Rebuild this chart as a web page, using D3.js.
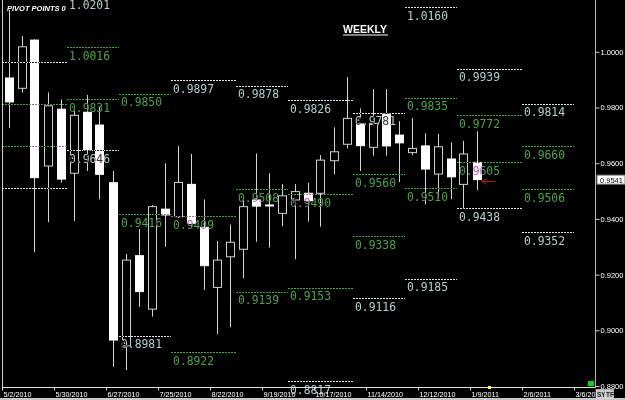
<!DOCTYPE html>
<html>
<head>
<meta charset="utf-8">
<script src="https://cdn.jsdelivr.net/npm/d3@7"></script>
<style>
  html, body { margin: 0; padding: 0; background: #000; }
  svg { display: block; }
</style>
</head>
<body>
<div id="chart"></div>
<script>
const width = 625;
const height = 400;

// weekly candles (week start dates)
const weeks = ["2010-05-02","2010-05-09","2010-05-16","2010-05-23","2010-05-30",
  "2010-06-06","2010-06-13","2010-06-20","2010-06-27",
  "2010-07-04","2010-07-11","2010-07-18","2010-07-25",
  "2010-08-01","2010-08-08","2010-08-15","2010-08-22","2010-08-29",
  "2010-09-05","2010-09-12","2010-09-19","2010-09-26",
  "2010-10-03","2010-10-10","2010-10-17","2010-10-24","2010-10-31",
  "2010-11-07","2010-11-14","2010-11-21","2010-11-28",
  "2010-12-05","2010-12-12","2010-12-19","2010-12-26",
  "2011-01-02","2011-01-09"];
const open  = [0.9906,0.9869,1.0042,0.9590,0.9794,0.9564,0.9783,0.9737,0.9530,0.8944,0.9268,0.9076,0.9435,0.9408,0.9524,0.9370,0.9154,0.9264,0.9291,0.9468,0.9450,0.9420,0.9468,0.9492,0.9492,0.9609,0.9668,0.9741,0.9657,0.9776,0.9701,0.9638,0.9662,0.9561,0.9615,0.9524,0.9603];
const high  = [1.0150,1.0057,1.0045,0.9854,0.9829,0.9790,0.9845,0.9803,0.9572,0.9274,0.9364,0.9450,0.9600,0.9662,0.9633,0.9470,0.9321,0.9380,0.9468,0.9635,0.9564,0.9525,0.9525,0.9530,0.9629,0.9729,0.9909,0.9797,0.9866,0.9866,0.9751,0.9762,0.9707,0.9705,0.9675,0.9680,0.9715];
const low   = [0.9726,0.9853,0.9280,0.9388,0.9530,0.9392,0.9572,0.9470,0.8869,0.8857,0.9084,0.9049,0.9300,0.9403,0.9366,0.9145,0.8987,0.9011,0.9187,0.9318,0.9297,0.9374,0.9255,0.9390,0.9372,0.9560,0.9653,0.9572,0.9627,0.9627,0.9532,0.9629,0.9452,0.9474,0.9471,0.9438,0.9504];
const close = [0.9820,1.0018,0.9548,0.9806,0.9543,0.9772,0.9647,0.9560,0.8965,0.9252,0.9139,0.9444,0.9414,0.9531,0.9384,0.9232,0.9252,0.9316,0.9444,0.9446,0.9447,0.9483,0.9498,0.9465,0.9611,0.9641,0.9761,0.9663,0.9743,0.9662,0.9673,0.9653,0.9579,0.9659,0.9551,0.9633,0.9541];
const lastPrice = 0.9541;

// monthly pivot levels (segment start dates, last one is the end)
const pivotStarts = ["2010-05-02","2010-06-06","2010-07-04","2010-08-01","2010-09-05","2010-10-03",
  "2010-11-07","2010-12-05","2011-01-02","2011-02-06","2011-03-06"];
const pivotR2 = [0.9964,1.0201,1.0285,0.9897,0.9878,0.9826,0.9781,1.0160,0.9939,0.9814];
const pivotR1 = [0.9814,1.0016,0.9850,0.9409,0.9508,0.9490,0.9560,0.9835,0.9772,0.9660];
const pivotS1 = [0.9663,0.9831,0.9416,0.8922,0.9139,0.9153,0.9338,0.9510,0.9605,0.9506];
const pivotS2 = [0.9512,0.9646,0.8981,0.8435,0.8770,0.8817,0.9116,0.9185,0.9438,0.9352];

const xTicks = ["2010-05-02","2010-05-30","2010-06-27","2010-07-25","2010-08-22","2010-09-19",
  "2010-10-17","2010-11-14","2010-12-12","2011-01-09","2011-02-06","2011-03-06"];
const yTicks = [0.88,0.90,0.92,0.94,0.96,0.98,1.00];

const parse = d3.timeParse("%Y-%m-%d");
const fmtDate = d3.timeFormat("%-m/%-d/%Y");

const plotLeft = 2, plotRight = 595, plotBottom = 387;

const x = d3.scaleTime()
  .domain([parse("2010-05-02"), parse("2011-03-06")])
  .range([2, 574]);
const y = d3.scaleLinear()
  .domain([0.88, 1.00])
  .range([386, 51.8]);

const svg = d3.select("#chart")
  .append("svg")
  .attr("width", width)
  .attr("height", height)
  .attr("viewBox", [0, 0, width, height]);

svg.append("rect").attr("width", width).attr("height", height).attr("fill", "#000");

const defs = svg.append("defs");
defs.append("clipPath").attr("id", "plotclip")
  .append("rect").attr("x", plotLeft).attr("y", 0).attr("width", plotRight - plotLeft).attr("height", plotBottom);
defs.append("clipPath").attr("id", "labelclip")
  .append("rect").attr("x", plotLeft).attr("y", 0).attr("width", plotRight - plotLeft).attr("height", 398);

// candles
const candles = weeks.map((w, i) => ({
  date: parse(w), o: open[i], h: high[i], l: low[i], c: close[i]
}));
const cx = d => Math.round(x(d3.timeHour.offset(d.date, 84))) + 0.5;

const cg = svg.append("g").attr("clip-path", "url(#plotclip)");
cg.selectAll("line.wick")
  .data(candles)
  .join("line")
  .attr("class", "wick")
  .attr("x1", cx).attr("x2", cx)
  .attr("y1", d => y(d.h)).attr("y2", d => y(d.l))
  .attr("stroke", "#d4d4d4")
  .attr("stroke-width", 1);

cg.selectAll("rect.body")
  .data(candles)
  .join("rect")
  .attr("class", "body")
  .attr("x", d => cx(d) - 4)
  .attr("width", 8)
  .attr("y", d => y(Math.max(d.o, d.c)))
  .attr("height", d => Math.max(1, Math.abs(y(d.o) - y(d.c))))
  .attr("fill", d => d.c < d.o ? "#ffffff" : "#000000")
  .attr("stroke", d => d.c < d.o ? "#ffffff" : "#d0d0d0")
  .attr("stroke-width", 1);

// pivot levels, drawn with difference blend like the terminal does
const pivots = [];
pivotR2.forEach((v, i) => {
  const x0 = x(parse(pivotStarts[i])), x1 = x(parse(pivotStarts[i + 1]));
  pivots.push({ x0, x1, v, kind: "w", i });
  pivots.push({ x0, x1, v: pivotR1[i], kind: "g", i });
  pivots.push({ x0, x1, v: pivotS1[i], kind: "g", i });
  pivots.push({ x0, x1, v: pivotS2[i], kind: "w", i });
});

const pg = svg.append("g").style("mix-blend-mode", "difference");
pg.append("g").attr("clip-path", "url(#plotclip)")
  .selectAll("line")
  .data(pivots)
  .join("line")
  .attr("x1", d => d.x0).attr("x2", d => d.x1)
  .attr("y1", d => Math.round(y(d.v)) + 0.5).attr("y2", d => Math.round(y(d.v)) + 0.5)
  .attr("stroke", d => d.kind === "w" ? "#e6e6e6" : "#34b034")
  .attr("stroke-width", 1)
  .attr("stroke-dasharray", "2,1");

pg.append("g").attr("clip-path", "url(#labelclip)")
  .selectAll("text")
  .data(pivots.filter(d => d.i > 0))
  .join("text")
  .attr("x", d => d.x0 + 2)
  .attr("y", d => y(d.v) + 12.7)
  .attr("font-family", "DejaVu Sans Mono")
  .attr("font-size", 13)
  .attr("textLength", 41)
  .attr("lengthAdjust", "spacingAndGlyphs")
  .attr("fill", d => d.kind === "w" ? "#b4d0d0" : "#4fa44f")
  .text(d => d.v.toFixed(4));

// frame lines
svg.append("line").attr("x1", 2.5).attr("x2", 2.5).attr("y1", 0).attr("y2", plotBottom)
  .attr("stroke", "#cfcfcf");

// x axis
const xAxis = d3.axisBottom(x)
  .tickValues(xTicks.map(parse))
  .tickFormat(fmtDate)
  .tickSize(3)
  .tickSizeOuter(0);
const xg = svg.append("g").attr("transform", `translate(0,${plotBottom + 0.5})`).call(xAxis);
xg.select(".domain").attr("d", `M${plotLeft},0H${plotRight}`).attr("stroke", "#e0e0e0");
xg.selectAll(".tick line").attr("stroke", "#e0e0e0");
xg.selectAll(".tick text")
  .attr("fill", "#ffffff")
  .attr("font-family", "Liberation Sans, Arial, sans-serif")
  .attr("font-size", 7.2)
  .attr("text-anchor", "start")
  .attr("dx", 1)
  .attr("dy", 0)
  .attr("y", 9);

// y axis on the right
const yAxis = d3.axisRight(y)
  .tickValues(yTicks)
  .tickFormat(d3.format(".4f"))
  .tickSize(4)
  .tickSizeOuter(0);
const yg = svg.append("g").attr("transform", `translate(${plotRight + 0.5},0)`).call(yAxis);
yg.select(".domain").attr("d", `M0,0V${plotBottom + 1}`).attr("stroke", "#b8b8b8");
yg.selectAll(".tick line").attr("stroke", "#d0d0d0");
yg.selectAll(".tick text")
  .attr("fill", "#ffffff")
  .attr("font-family", "Liberation Sans, Arial, sans-serif")
  .attr("font-size", 7.5)
  .attr("x", 5);

// last price box
const lp = svg.append("g").attr("transform", `translate(597,${y(lastPrice)})`);
lp.append("rect").attr("x", 0).attr("y", -4.5).attr("width", 28).attr("height", 9)
  .attr("fill", "#ffffff").attr("stroke", "#808080");
lp.append("text").attr("x", 3).attr("y", 3)
  .attr("font-family", "Liberation Sans, Arial, sans-serif").attr("font-size", 7.5)
  .attr("fill", "#000").text(lastPrice.toFixed(4));

// red arrow at the last close
const ay = Math.round(y(lastPrice)) + 1.5;
const arrow = svg.append("g").attr("stroke", "#b81818").attr("stroke-width", 1).attr("fill", "none");
arrow.append("line").attr("x1", 482).attr("x2", 495).attr("y1", ay).attr("y2", ay);
arrow.append("path").attr("d", `M487,${ay - 3}L482,${ay}L487,${ay + 3}`);

// titles
svg.append("text").attr("x", 7).attr("y", 11)
  .attr("font-family", "Liberation Sans, Arial, sans-serif")
  .attr("font-size", 7.5).attr("font-weight", "bold").attr("font-style", "italic")
  .attr("fill", "#ffffff").text("PIVOT POINTS 0");

svg.append("text").attr("x", 343).attr("y", 33)
  .attr("font-family", "Liberation Sans, Arial, sans-serif")
  .attr("font-size", 10.5).attr("font-weight", "bold")
  .attr("fill", "#ffffff").text("WEEKLY");
svg.append("line").attr("x1", 343).attr("x2", 388).attr("y1", 35).attr("y2", 35)
  .attr("stroke", "#ffffff").attr("stroke-width", 1);

// small markers
svg.append("rect").attr("x", 588).attr("y", 381).attr("width", 6).attr("height", 5).attr("fill", "#00e000");
svg.append("rect").attr("x", 488).attr("y", 386).attr("width", 3).attr("height", 3).attr("fill", "#ffff30");

// bottom strip and buttons
svg.append("rect").attr("x", 0).attr("y", 398).attr("width", width).attr("height", 2).attr("fill", "#c8c8c8");
["SY", "TF"].forEach((t, i) => {
  svg.append("rect").attr("x", 596 + i * 9).attr("y", 389.5).attr("width", 8.5).attr("height", 8.5)
    .attr("fill", "#c8c8c8").attr("stroke", "#f0f0f0").attr("stroke-width", 0.5);
  svg.append("text").attr("x", 597 + i * 9).attr("y", 396.5)
    .attr("font-family", "Liberation Sans, Arial, sans-serif").attr("font-size", 6.5).attr("font-weight", "bold")
    .attr("fill", "#202020").text(t);
});
</script>
</body>
</html>
